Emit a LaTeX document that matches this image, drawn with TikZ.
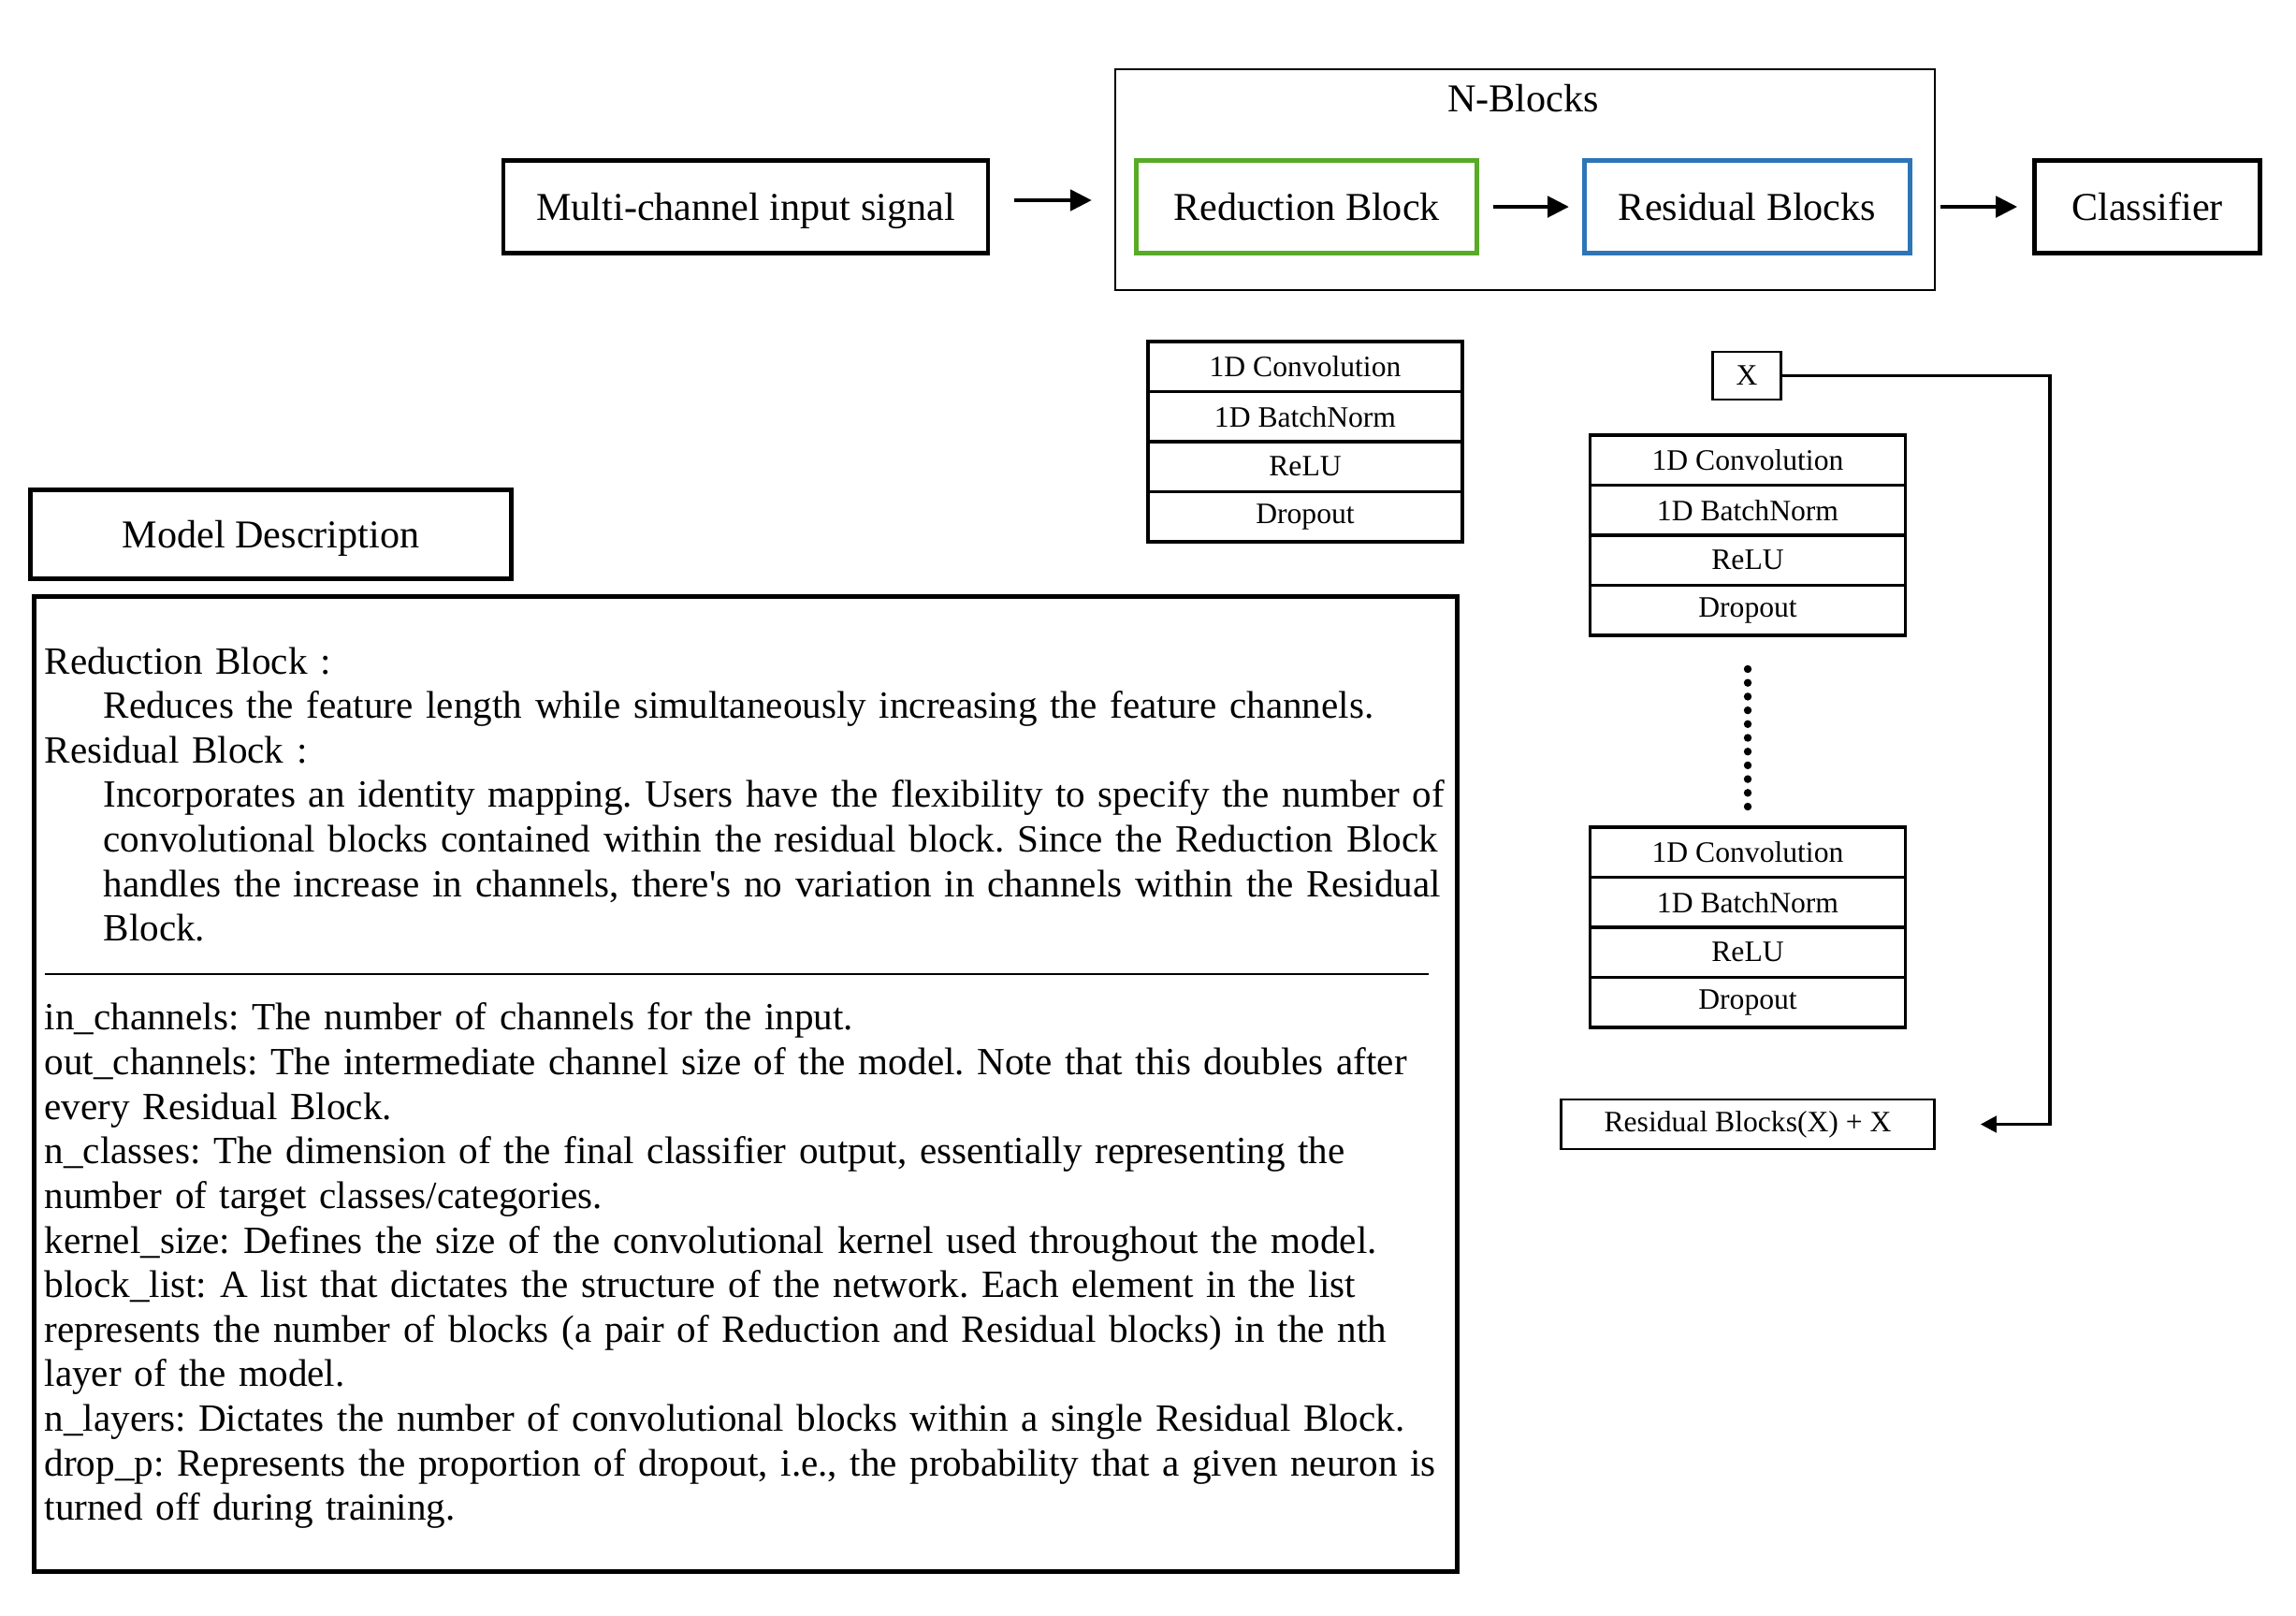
\documentclass[tikz,border=0pt]{standalone}
\usepackage{fontspec}
\setmainfont{Liberation Serif}
\usetikzlibrary{arrows.meta,positioning}
\definecolor{redgreen}{RGB}{87,171,39}
\definecolor{resblue}{RGB}{46,117,182}

\begin{document}
\begin{tikzpicture}[
	box/.style={draw, line width=1.4pt, minimum height=0.99cm, inner sep=0pt, text height=9.5pt, text depth=1pt, font=\fontsize{12}{14}\selectfont},
	layer/.style={draw, line width=1pt, minimum width=3.36cm, minimum height=0.535cm, inner sep=0pt, font=\fontsize{9}{10}\selectfont},
	thin/.style={draw, line width=0.7pt, inner sep=0pt, font=\fontsize{9}{10}\selectfont},
	arr/.style={-{Triangle[length=0.23cm,width=0.22cm]}, line width=1.4pt},
	skiparr/.style={-{Triangle[length=0.17cm,width=0.17cm]}, line width=1.1pt}]
\useasboundingbox (0,0) rectangle (24.54,-17.26);

\node[box, minimum width=5.18cm] (input) at (7.97,-2.21) {Multi-channel input signal};
\node[draw, line width=0.6pt, minimum width=8.76cm, minimum height=2.36cm] (nblk) at (16.30,-1.92) {};
\node[font=\fontsize{12}{14}\selectfont] (nlbl) at (16.28,-1.05) {N-Blocks};
\node[box, draw=redgreen, minimum width=3.64cm] (red) at (13.965,-2.21) {Reduction Block};
\node[box, draw=resblue, minimum width=3.48cm] (res) at (18.675,-2.21) {Residual Blocks};
\node[box, line width=1.3pt, minimum width=2.41cm] (cls) at (22.95,-2.21) {Classifier};

\draw[arr, shorten <=0.26cm, shorten >=0.24cm] ([yshift=0.07cm]input.east) -- ([yshift=0.07cm]input.east -| nblk.west);
\draw[arr, shorten <=0.15cm, shorten >=0.14cm] (red) -- (res);
\draw[arr, shorten <=0.30cm, shorten >=0.16cm] (res) -- (cls);

\foreach \lbl [count=\i] in {1D Convolution, 1D BatchNorm, ReLU, Dropout}
	\node[layer] (rl\i) at (13.95,-3.65-0.535*\i+0.2675) {\lbl};

\node[thin, minimum width=0.73cm, minimum height=0.51cm] (xin) at (18.67,-4.015) {X};
\foreach \lbl [count=\i] in {1D Convolution, 1D BatchNorm, ReLU, Dropout}
	\node[layer, minimum width=3.37cm] (ra\i) at (18.68,-4.65-0.535*\i+0.2675) {\lbl};
\foreach \k in {0,...,10}
	\fill (18.68,-7.15-0.147*\k) circle (0.042);
\foreach \lbl [count=\i] in {1D Convolution, 1D BatchNorm, ReLU, Dropout}
	\node[layer, minimum width=3.37cm] (rb\i) at (18.68,-8.84-0.535*\i+0.2675) {\lbl};
\node[thin, minimum width=3.99cm, minimum height=0.53cm] (sum) at (18.68,-12.015) {Residual Blocks(X) + X};

\coordinate (loopc) at (21.91,-8);
\draw[skiparr, shorten >=0.48cm] (xin.east) -| (loopc) |- (sum.east);

\node[box, minimum width=5.14cm, minimum height=0.95cm] (mdesc) at (2.895,-5.71) {Model Description};
\node[draw, line width=1.4pt, minimum width=15.21cm, minimum height=10.42cm] (desc) at (7.97,-11.585) {};
\node[anchor=base west, inner sep=0pt, text width=16cm, align=left, font=\fontsize{11.7}{13.55}\selectfont\frenchspacing] (dtext) at (0.47,-7.20) {%
Reduction Block :\\
\hspace*{0.63cm}Reduces the feature length while simultaneously increasing the feature channels.\\
Residual Block :\\
\hspace*{0.63cm}Incorporates an identity mapping. Users have the flexibility to specify the number of\\
\hspace*{0.63cm}convolutional blocks contained within the residual block. Since the Reduction Block\\
\hspace*{0.63cm}handles the increase in channels, there\textquotesingle s no variation in channels within the Residual\\
\hspace*{0.63cm}Block.\\
\rule[0.116cm]{14.79cm}{0.4pt}\\
in\_channels: The number of channels for the input.\\
out\_channels: The intermediate channel size of the model. Note that this doubles after\\
every Residual Block.\\
n\_classes: The dimension of the final classifier output, essentially representing the\\
number of target classes/categories.\\
kernel\_size: Defines the size of the convolutional kernel used throughout the model.\\
block\_list: A list that dictates the structure of the network. Each element in the list\\
represents the number of blocks (a pair of Reduction and Residual blocks) in the nth\\
layer of the model.\\
n\_layers: Dictates the number of convolutional blocks within a single Residual Block.\\
drop\_p: Represents the proportion of dropout, i.e., the probability that a given neuron is\\
turned off during training.};
\end{tikzpicture}
\end{document}
